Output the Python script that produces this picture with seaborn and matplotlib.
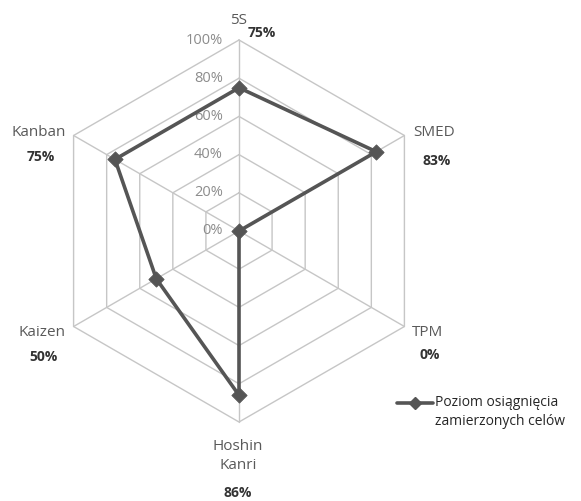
import numpy as np
import pandas as pd
import matplotlib
matplotlib.use("Agg")
import matplotlib.pyplot as plt
import seaborn as sns

categories = ["5S", "SMED", "TPM", "Hoshin\nKanri", "Kaizen", "Kanban"]
values = [75, 83, 0, 86, 50, 75]
value_labels = ["75%", "83%", "0%", "86%", "50%", "75%"]
ring_levels = [0, 20, 40, 60, 80, 100]
ring_labels = ["0%", "20%", "40%", "60%", "80%", "100%"]
series_name = "Poziom osiągnięcia\nzamierzonych celów"

sns.set_theme(style="white")
plt.rcParams["font.family"] = ["Open Sans", "DejaVu Sans"]

W, H, DPI = 581, 501, 100
cx, cy, R = 239, 231, 191  # chart centre and outer radius in pixels

fig = plt.figure(figsize=(W / DPI, H / DPI), dpi=DPI)
ax = fig.add_axes([0, 0, 1, 1])
ax.set_xlim(-cx / R, (W - cx) / R)
ax.set_ylim(-(H - cy) / R, cy / R)
ax.set_axis_off()

n = len(categories)
theta = np.arange(n) * 2 * np.pi / n


def to_xy(r, th):
    return r * np.sin(th), r * np.cos(th)


grid_col = "#c6c6c6"
# hexagonal rings
for lvl in ring_levels[1:]:
    th = np.append(theta, theta[0])
    gx, gy = to_xy(np.full(th.shape, lvl / 100), th)
    ax.plot(gx, gy, color=grid_col, lw=1.0, zorder=1)
# spokes
for th in theta:
    sx, sy = to_xy(np.array([0, 1.0]), np.array([th, th]))
    ax.plot(sx, sy, color=grid_col, lw=1.0, zorder=1)

# radial tick labels along the top spoke
for lvl, lab in zip(ring_levels, ring_labels):
    ax.text(-16 / R, lvl / 100, lab, ha="right", va="center",
            fontsize=10.5, color="#8c8c8c", zorder=2)

# data series
r = np.array(values) / 100
px, py = to_xy(r, theta)
df = pd.DataFrame({"x": np.append(px, px[0]), "y": np.append(py, py[0]),
                   "s": series_name})
line_col = "#555555"
sns.lineplot(data=df, x="x", y="y", sort=False, estimator=None, ax=ax,
             color=line_col, lw=2.6, legend=False, zorder=3)
sns.scatterplot(data=df.iloc[:-1], x="x", y="y", marker="D", s=60,
                color=line_col, edgecolor=line_col, ax=ax, legend=False,
                zorder=4)

# category and value labels (pixel offsets from centre)
cat_pos = [(239, 20), (434, 132), (428, 332), (238, 456), (42, 332), (39, 132)]
val_pos = [(262, 33), (437, 161), (430, 355), (238, 493), (43, 357), (41, 157)]


def px2d(x, y):
    return (x - cx) / R, (cy - y) / R


for name, lab, cp, vp in zip(categories, value_labels, cat_pos, val_pos):
    ax.text(*px2d(*cp), name, ha="center", va="center", fontsize=11,
            color="#595959", linespacing=1.3)
    ax.text(*px2d(*vp), lab, ha="center", va="center", fontsize=10,
            color="#333333", fontweight="bold")

# legend
lx0, lx1, ly = 397, 433, 403
ax.plot([px2d(lx0, ly)[0], px2d(lx1, ly)[0]], [px2d(lx0, ly)[1]] * 2,
        color=line_col, lw=2.6, clip_on=False)
ax.plot(*px2d((lx0 + lx1) / 2, ly), marker="D", ms=6.5, color=line_col,
        clip_on=False)
ax.text(*px2d(435, 412), series_name, ha="left", va="center", fontsize=10,
        color="#262626", linespacing=1.3)

fig.savefig("out.png", dpi=DPI, facecolor="white")
